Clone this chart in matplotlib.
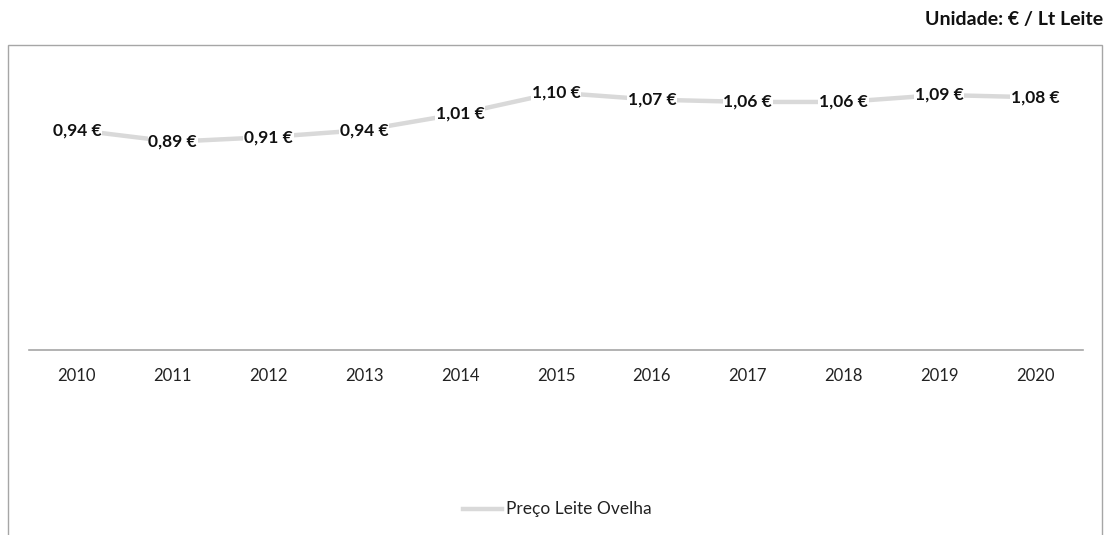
import matplotlib
matplotlib.use("Agg")
import matplotlib.pyplot as plt
from matplotlib.patches import Rectangle
from matplotlib.lines import Line2D

years = ["2010", "2011", "2012", "2013", "2014", "2015", "2016", "2017", "2018", "2019", "2020"]
prices = [0.94, 0.89, 0.91, 0.94, 1.01, 1.10, 1.07, 1.06, 1.06, 1.09, 1.08]
series_name = "Preço Leite Ovelha"
unit_label = "Unidade: € / Lt Leite"

W, H = 1106, 535
fig = plt.figure(figsize=(W / 100, H / 100), dpi=100)
plt.rcParams['font.family'] = ['Lato', 'DejaVu Sans']

# outer frame
fig.patches.append(Rectangle((8 / W, -0.05), (1102 - 8) / W, 1.05 - 45 / H,
                             transform=fig.transFigure, fill=False,
                             edgecolor="#a6a6a6", linewidth=1.0))

# axes: x from 29 to 1083 px, y=0 at 350 px, 234 px per unit
ymax = 1.2
ax_left, ax_right = 29 / W, 1083 / W
ax_bottom = 1 - 350 / H
ax_h = ymax * 234 / H
ax = fig.add_axes([ax_left, ax_bottom, ax_right - ax_left, ax_h])
ax.set_xlim(-0.5, len(years) - 0.5)
ax.set_ylim(0, ymax)

x = list(range(len(years)))
ax.plot(x, prices, color="#d9d9d9", linewidth=3.2, solid_capstyle="round", zorder=2)

for xi, v in zip(x, prices):
    ax.text(xi, v, f"{v:.2f} €".replace(".", ","), ha="center", va="center",
            fontsize=12.5, fontweight="bold", color="#111111", zorder=3,
            bbox=dict(facecolor="white", edgecolor="none", pad=0.5))

for s in ["top", "left", "right"]:
    ax.spines[s].set_visible(False)
ax.spines["bottom"].set_color("#a6a6a6")
ax.spines["bottom"].set_linewidth(1.2)
ax.set_yticks([])
ax.set_xticks(x)
ax.set_xticklabels(years, fontsize=12, color="#222222")
ax.tick_params(axis="x", length=0, pad=13)

fig.text(1103 / W, 1 - 20 / H, unit_label, ha="right", va="center",
         fontsize=14, fontweight="bold", color="#111111")

# legend
fig.lines.append(Line2D([463 / W, 502 / W], [1 - 509 / H, 1 - 509 / H],
                        transform=fig.transFigure, color="#d9d9d9", linewidth=3.2))
fig.text(506 / W, 1 - 509 / H, series_name, ha="left", va="center",
         fontsize=12.5, color="#222222")

fig.savefig("out.png", dpi=100)
